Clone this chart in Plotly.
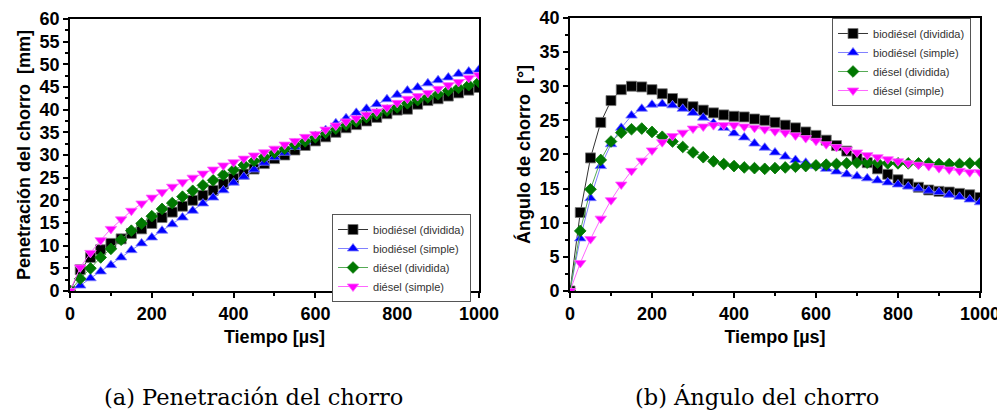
import plotly.graph_objects as go

tiempo = [0, 25, 50, 75, 100, 125, 150, 175, 200, 225, 250, 275, 300, 325, 350, 375, 400,
          425, 450, 475, 500, 525, 550, 575, 600, 625, 650, 675, 700, 725, 750, 775, 800,
          825, 850, 875, 900, 925, 950, 975, 1000]

# (a) Penetración del chorro [mm]
pen_bio_div = [0, 4.7, 7.4, 9.1, 10.5, 11.5, 12.7, 13.7, 14.9, 16.2, 17.4, 18.7, 20.0, 21.1,
               22.2, 23.6, 24.8, 25.8, 26.9, 28.1, 29.2, 30.0, 31.1, 32.1, 33.1, 34.0, 35.0,
               36.0, 36.7, 37.5, 38.3, 39.1, 39.9, 40.1, 41.2, 42.0, 42.4, 43.0, 43.7, 44.3, 44.9]
pen_bio_sim = [0, 1.2, 2.8, 4.3, 5.7, 7.4, 9.0, 10.5, 11.8, 13.3, 14.7, 16.2, 17.7, 19.3,
               20.6, 22.2, 23.9, 25.2, 26.8, 28.3, 29.5, 30.5, 31.8, 33.0, 34.2, 35.5, 37.0,
               38.1, 39.3, 40.2, 41.2, 42.3, 43.3, 44.2, 44.9, 45.8, 46.5, 47.1, 47.9, 48.4, 48.8]
pen_die_div = [0, 2.7, 5.0, 7.4, 9.3, 11.3, 13.3, 14.9, 16.5, 18.1, 19.4, 20.8, 22.1, 23.3,
               24.4, 25.6, 26.7, 27.8, 28.7, 29.6, 30.5, 31.4, 32.3, 33.0, 33.9, 34.9, 35.8,
               36.7, 37.4, 38.3, 39.0, 39.8, 40.5, 41.4, 42.1, 42.7, 43.4, 44.2, 44.8, 45.4, 46.1]
pen_die_sim = [0, 5.2, 8.4, 11.2, 13.7, 15.8, 17.7, 19.3, 20.6, 21.8, 23.0, 24.0, 25.0, 25.9,
               26.8, 27.7, 28.4, 29.2, 29.9, 30.6, 31.4, 32.3, 33.1, 34.0, 34.6, 35.6, 36.5,
               37.4, 38.1, 38.9, 39.6, 40.5, 41.5, 42.4, 43.0, 43.7, 44.6, 45.4, 46.1, 47.0, 47.6]

# (b) Ángulo del chorro [°]
ang_bio_div = [0, 11.5, 19.5, 24.7, 27.9, 29.5, 30.0, 29.9, 29.5, 28.9, 28.2, 27.5, 27.0, 26.5,
               26.1, 25.8, 25.6, 25.5, 25.2, 25.0, 24.7, 24.3, 23.9, 23.3, 22.8, 22.1, 21.3,
               20.5, 19.4, 18.8, 17.9, 17.1, 16.3, 15.7, 15.2, 14.8, 14.6, 14.5, 14.3, 14.1, 13.7]
ang_bio_sim = [0, 7.7, 13.6, 18.3, 21.5, 23.9, 25.7, 26.7, 27.3, 27.4, 27.2, 26.7, 26.1, 25.4,
               24.6, 23.9, 23.1, 22.5, 21.6, 21.0, 20.3, 19.7, 19.2, 18.8, 18.3, 17.9, 17.5,
               17.1, 16.8, 16.5, 16.2, 15.9, 15.6, 15.3, 15.0, 14.7, 14.5, 14.1, 13.8, 13.4, 13.0]
ang_die_div = [0, 8.8, 14.9, 19.2, 21.9, 23.2, 23.7, 23.8, 23.3, 22.6, 21.9, 21.1, 20.3, 19.6,
               19.0, 18.6, 18.3, 18.1, 18.0, 17.9, 18.0, 18.1, 18.2, 18.3, 18.4, 18.5, 18.6,
               18.7, 18.8, 18.8, 18.8, 18.7, 18.7, 18.7, 18.7, 18.7, 18.6, 18.6, 18.6, 18.7, 18.7]
ang_die_sim = [0, 4.1, 7.6, 10.6, 13.3, 15.6, 17.6, 19.1, 20.6, 21.8, 22.7, 23.2, 23.8, 24.1,
               24.3, 24.3, 24.3, 24.1, 23.9, 23.7, 23.4, 23.2, 22.8, 22.4, 22.0, 21.5, 21.1,
               20.7, 20.3, 19.9, 19.6, 19.3, 19.0, 18.7, 18.5, 18.3, 18.0, 17.8, 17.6, 17.4, 17.4]

nombres = ["biodiésel (dividida)", "biodiésel (simple)", "diésel (dividida)", "diésel (simple)"]
estilos = [
    dict(line="#333333", marker="#000000", symbol="square", size=10, mline="#777777"),
    dict(line="#8080ff", marker="#0000ff", symbol="triangle-up", size=10, mline="#8080ff"),
    dict(line="#55aa55", marker="#007700", symbol="diamond", size=9, mline="#007700"),
    dict(line="#ff66ff", marker="#ff00ff", symbol="triangle-down", size=10, mline="#ff66ff"),
]

fig = go.Figure()
series_a = [pen_bio_div, pen_bio_sim, pen_die_div, pen_die_sim]
series_b = [ang_bio_div, ang_bio_sim, ang_die_div, ang_die_sim]

for nombre, est, ys in zip(nombres, estilos, series_a):
    fig.add_trace(go.Scatter(
        x=tiempo, y=ys, name=nombre, mode="lines+markers", xaxis="x", yaxis="y",
        legend="legend",
        line=dict(color=est["line"], width=1),
        marker=dict(color=est["marker"], symbol=est["symbol"], size=est["size"],
                    line=dict(color=est["mline"], width=0.8)),
    ))
for nombre, est, ys in zip(nombres, estilos, series_b):
    fig.add_trace(go.Scatter(
        x=tiempo, y=ys, name=nombre, mode="lines+markers", xaxis="x2", yaxis="y2",
        legend="legend2",
        line=dict(color=est["line"], width=1),
        marker=dict(color=est["marker"], symbol=est["symbol"], size=est["size"],
                    line=dict(color=est["mline"], width=0.8)),
    ))

SANS = "Liberation Sans"
tickfont = dict(family=SANS, size=18, color="black", weight="bold")
titlefont = dict(family=SANS, size=18, color="black", weight="bold")

def xax(domain, anchor):
    return dict(domain=domain, anchor=anchor, range=[0, 1000], tickvals=[0, 200, 400, 600, 800, 1000],
                ticks="outside", ticklen=5, tickwidth=2, tickcolor="black",
                minor=dict(dtick=100, ticks="outside", ticklen=3, tickwidth=1.5, tickcolor="black"),
                showline=True, linewidth=2, linecolor="black", mirror=True, automargin=False,
                showgrid=False, zeroline=False, tickfont=tickfont,
                title=dict(text="Tiempo [µs]", font=titlefont, standoff=8))

def yax(domain, anchor, rng, titulo):
    return dict(domain=domain, anchor=anchor, range=rng, dtick=5,
                ticks="outside", ticklen=5, tickwidth=2, tickcolor="black",
                minor=dict(dtick=2.5, ticks="outside", ticklen=3, tickwidth=1.5, tickcolor="black"),
                showline=True, linewidth=2, linecolor="black", mirror=True, automargin=False,
                showgrid=False, zeroline=False, tickfont=tickfont,
                title=dict(text=titulo, font=titlefont, standoff=4))

legend_common = dict(bgcolor="white", bordercolor="#555555", borderwidth=1,
                     font=dict(family=SANS, size=11, color="#333333"),
                     xanchor="left", yanchor="top", tracegroupgap=0)

fig.update_layout(
    width=997, height=406,
    margin=dict(l=0, r=0, t=0, b=0),
    paper_bgcolor="white", plot_bgcolor="white",
    showlegend=True,
    xaxis=xax([0.0622, 0.4724], "y"),
    yaxis=yax([0.3030, 0.9729], "x", [0, 60], "Penetración del chorro  [mm]"),
    xaxis2=xax([0.5637, 0.9749], "y2"),
    yaxis2=yax([0.3030, 0.9754], "x2", [0, 40], "Ángulo de chorro  [°]"),
    legend=dict(x=0.3250, y=0.4926, **legend_common),
    legend2=dict(x=0.8265, y=0.9754, **legend_common),
    annotations=[
        dict(text="(a) Penetración del chorro", x=0.2467, y=0.0419, xref="paper", yref="paper",
             xanchor="center", yanchor="middle", showarrow=False,
             font=dict(family="DejaVu Serif, serif", size=22.5, color="black")),
        dict(text="(b) Ángulo del chorro", x=0.7508, y=0.0419, xref="paper", yref="paper",
             xanchor="center", yanchor="middle", showarrow=False,
             font=dict(family="DejaVu Serif, serif", size=22.5, color="black")),
    ],
)

fig.write_html("out.html")
